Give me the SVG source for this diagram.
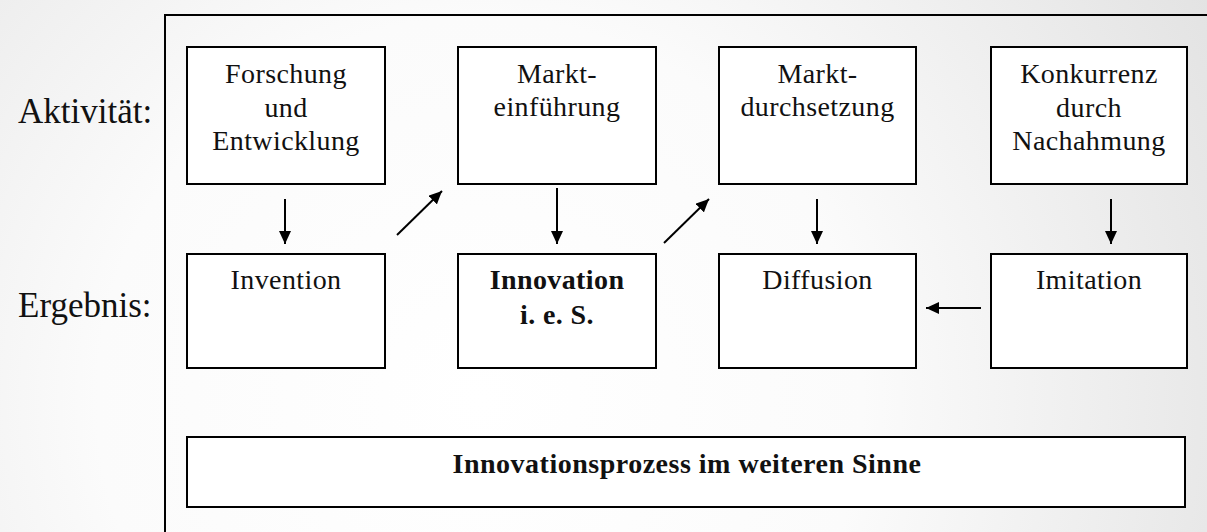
<svg xmlns="http://www.w3.org/2000/svg" width="1207" height="532" viewBox="0 0 1207 532">
  <defs>
    <radialGradient id="bg" gradientUnits="userSpaceOnUse" cx="480" cy="400" r="850">
      <stop offset="0" stop-color="#ffffff"/>
      <stop offset="0.45" stop-color="#fbfbfb"/>
      <stop offset="1" stop-color="#e2e2e2"/>
    </radialGradient>
    <marker id="ah" markerUnits="userSpaceOnUse" markerWidth="14" markerHeight="12" refX="13" refY="6" orient="auto">
      <path d="M0,0 L13,6 L0,12 z" fill="#000"/>
    </marker>
    <style>
      .box { fill: #ffffff; stroke: #000; stroke-width: 2; }
      .t { font-family: "Liberation Serif", "Times New Roman", serif; font-size: 28px; fill: #111; text-anchor: middle; letter-spacing: 0.4px; }
      .b { font-weight: bold; }
      .wide { letter-spacing: 0.5px; }
      .lbl { font-family: "Liberation Serif", "Times New Roman", serif; font-size: 35px; fill: #111; }
      .frame { stroke: #000; stroke-width: 2; fill: none; }
      .conn line { stroke: #000; stroke-width: 2; marker-end: url(#ah); }
    </style>
  </defs>

  <rect x="0" y="0" width="1207" height="532" fill="url(#bg)"/>
  <path class="frame" d="M165,532 V15 H1207"/>

  <text class="lbl" x="18" y="123">Aktivität:</text>
  <text class="lbl" x="18" y="317">Ergebnis:</text>

  <g id="node-fue">
    <rect class="box" x="187" y="47" width="198" height="137"/>
    <text class="t" x="286" y="83">Forschung</text>
    <text class="t" x="286" y="117">und</text>
    <text class="t" x="286" y="150">Entwicklung</text>
  </g>
  <g id="node-markteinfuehrung">
    <rect class="box" x="458" y="47" width="198" height="137"/>
    <text class="t" x="557" y="83">Markt-</text>
    <text class="t" x="557" y="116">einführung</text>
  </g>
  <g id="node-marktdurchsetzung">
    <rect class="box" x="719" y="47" width="197" height="137"/>
    <text class="t" x="817.5" y="83">Markt-</text>
    <text class="t" x="817.5" y="116">durchsetzung</text>
  </g>
  <g id="node-konkurrenz">
    <rect class="box" x="991" y="47" width="196" height="137"/>
    <text class="t" x="1089" y="83">Konkurrenz</text>
    <text class="t" x="1089" y="117">durch</text>
    <text class="t" x="1089" y="150">Nachahmung</text>
  </g>

  <g id="node-invention">
    <rect class="box" x="187" y="254" width="198" height="114"/>
    <text class="t" x="286" y="289">Invention</text>
  </g>
  <g id="node-innovation">
    <rect class="box" x="458" y="254" width="198" height="114"/>
    <text class="t b" x="557" y="289">Innovation</text>
    <text class="t b" x="557" y="324">i. e. S.</text>
  </g>
  <g id="node-diffusion">
    <rect class="box" x="719" y="254" width="197" height="114"/>
    <text class="t" x="817.5" y="289">Diffusion</text>
  </g>
  <g id="node-imitation">
    <rect class="box" x="991" y="254" width="196" height="114"/>
    <text class="t" x="1089" y="289">Imitation</text>
  </g>

  <g id="node-prozess">
    <rect class="box" x="187" y="437" width="998" height="70"/>
    <text class="t b wide" x="687" y="473">Innovationsprozess im weiteren Sinne</text>
  </g>

  <g id="connectors" class="conn">
    <line x1="285" y1="199" x2="285" y2="244"/>
    <line x1="397" y1="235" x2="442" y2="191"/>
    <line x1="557" y1="188" x2="557" y2="244"/>
    <line x1="664" y1="243" x2="709" y2="199"/>
    <line x1="817" y1="199" x2="817" y2="244"/>
    <line x1="1111" y1="199" x2="1111" y2="244"/>
    <line x1="981" y1="308" x2="926" y2="308"/>
  </g>
</svg>
